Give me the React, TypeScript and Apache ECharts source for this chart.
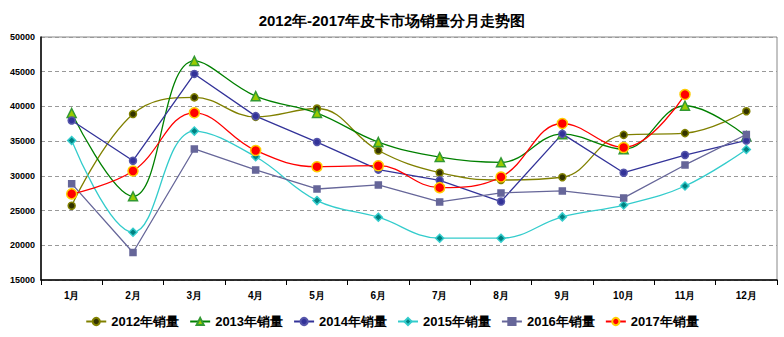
import React, { useEffect, useRef } from "react";
import * as echarts from "echarts";

const months = ["1月", "2月", "3月", "4月", "5月", "6月", "7月", "8月", "9月", "10月", "11月", "12月"];
const s2012 = [25700, 38900, 41300, 38500, 39700, 33650, 30450, 29400, 29800, 35900, 36150, 39300];
const s2013 = [39050, 27050, 46550, 41480, 39050, 34870, 32700, 31950, 36000, 33850, 40100, 35700];
const s2014 = [37980, 32180, 44680, 38600, 34870, 30900, 29350, 26300, 36050, 30450, 33000, 35100];
const s2015 = [35100, 21880, 36450, 32750, 26440, 24040, 21020, 21020, 24090, 25800, 28540, 33800];
const s2016 = [28880, 18960, 33870, 30850, 28110, 28690, 26250, 27540, 27830, 26820, 31570, 35960];
const s2017 = [27400, 30700, 39080, 33660, 31320, 31460, 28300, 29840, 37540, 34090, 41710, null];
const yTicks = { min: 15000, max: 50000, interval: 5000 };

export default function App() {
  const ref = useRef<HTMLDivElement>(null);
  useEffect(() => {
    const chart = echarts.init(ref.current!, null, { renderer: "svg" });
    const font = "Liberation Sans, Arial, sans-serif";
    const mk = (
      name: string,
      data: (number | null)[],
      lineColor: string,
      fill: string,
      border: string,
      symbol: string,
      size: number,
      smooth: boolean | number
    ) => ({
      name,
      type: "line",
      data,
      smooth,
      symbol,
      symbolSize: size,
      showSymbol: true,
      lineStyle: { color: lineColor, width: 1.3 },
      itemStyle: { color: fill, borderColor: border, borderWidth: 1.5 },
      emphasis: { disabled: true },
    });
    chart.setOption({
      animation: false,
      backgroundColor: "#ffffff",
      title: {
        text: "2012年-2017年皮卡市场销量分月走势图",
        left: "center",
        top: 8,
        textStyle: { fontSize: 15, fontWeight: "bold", color: "#000", fontFamily: font },
      },
      grid: {
        left: 41,
        right: 7,
        top: 37,
        bottom: 57,
        show: true,
        borderColor: "#888",
        borderWidth: 1,
      },
      legend: {
        bottom: 4,
        left: "center",
        itemWidth: 20,
        itemHeight: 9,
        itemGap: 10,
        textStyle: { fontSize: 13, fontWeight: "bold", color: "#000", fontFamily: font },
        data: ["2012年销量", "2013年销量", "2014年销量", "2015年销量", "2016年销量", "2017年销量"],
      },
      xAxis: {
        type: "category",
        data: months,
        boundaryGap: true,
        axisLine: { lineStyle: { color: "#000", width: 1.5 } },
        axisTick: { show: true, lineStyle: { color: "#000" }, length: 5 },
        axisLabel: { fontSize: 10, fontWeight: "bold", color: "#000", margin: 10, fontFamily: font },
      },
      yAxis: {
        type: "value",
        min: yTicks.min,
        max: yTicks.max,
        interval: yTicks.interval,
        axisLine: { show: true, lineStyle: { color: "#000", width: 1.5 } },
        axisTick: { show: false },
        axisLabel: {
          fontSize: 9,
          fontWeight: "bold",
          color: "#000",
          margin: 6,
          fontFamily: font,
          formatter: (v: number) => String(v),
        },
        splitLine: { show: true, lineStyle: { color: "#999", type: [4, 3], width: 1 } },
      },
      series: [
        mk("2012年销量", s2012, "#808000", "#333300", "#808000", "circle", 7, 0.4),
        mk("2013年销量", s2013, "#008000", "#99cc00", "#339933", "triangle", 9, 0.4),
        mk("2014年销量", s2014, "#333399", "#333399", "#5555aa", "circle", 7, false),
        mk("2015年销量", s2015, "#33cccc", "#008080", "#33cccc", "diamond", 8, 0.4),
        mk("2016年销量", s2016, "#666699", "#666699", "#666699", "rect", 6, false),
        mk("2017年销量", s2017, "#ff0000", "#ff0000", "#ffcc00", "circle", 10, 0.4),
      ],
    });
    return () => chart.dispose();
  }, []);
  return <div ref={ref} style={{ width: 784, height: 337, position: "absolute", left: 0, top: 0 }} />;
}
